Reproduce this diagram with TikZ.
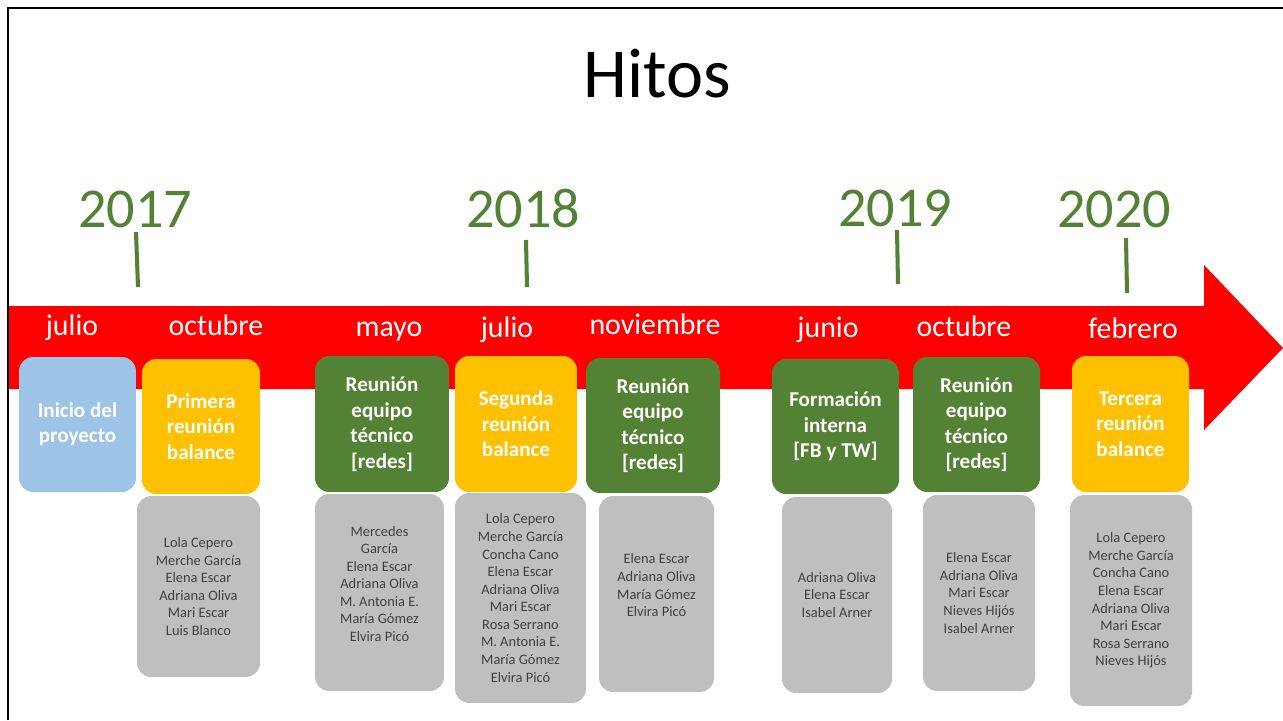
\documentclass[tikz,border=0pt]{standalone}
\usepackage{fontspec}
\setmainfont{Carlito}
\usetikzlibrary{positioning}
\definecolor{verde-hito}{RGB}{84,130,53}
\definecolor{amarillo-hito}{RGB}{255,192,0}
\definecolor{azul-hito}{RGB}{157,195,230}
\definecolor{gris-hito}{RGB}{191,191,191}
\definecolor{texto-gris}{RGB}{64,64,64}

\begin{document}
\begin{tikzpicture}[x=0.02cm, y=-0.02cm,
	hito/.style={rounded corners=8pt, text=white, align=center, inner sep=0pt, font=\fontsize{12}{14.5}\selectfont\bfseries},
	nombres/.style={fill=gris-hito, rounded corners=8pt, text=texto-gris, align=center, inner sep=0pt, font=\fontsize{8.2}{10}\selectfont},
	anio/.style={anchor=base, text=verde-hito, font=\fontsize{32}{38}\selectfont},
	mes/.style={anchor=base, text=white, font=\fontsize{17}{20}\selectfont},
	marca/.style={verde-hito, line width=2.3pt}]
	  \useasboundingbox (0,0) rectangle (1283,720);
	  % flecha roja
	  \fill[red] (8,306) -- (1204,306) -- (1204,265) -- (1283,348) -- (1204,430) -- (1204,389) -- (8,389) -- cycle;
	  \draw[line width=1.2pt] (8,720) -- (8,8) -- (1283,8);
	  \node[anchor=base, font=\fontsize{40}{48}\selectfont] (titulo) at (657,97) {Hitos};
	  % anios
	  \node[anio] (a2017) at (135,227) {2017};
	  \node[anio] (a2018) at (523,227) {2018};
	  \node[anio] (a2019) at (895,226) {2019};
	  \node[anio] (a2020) at (1114,227) {2020};
	  \draw[marca] (136,232) -- (138,287);
	  \draw[marca] (526,240) -- (527,287);
	  \draw[marca] (897,230) -- (898,284);
	  \draw[marca] (1126,238) -- (1127,293);
	  % meses
	  \node[mes] (m1) at (72,335) {julio};
	  \node[mes] (m2) at (216,335) {octubre};
	  \node[mes] (m3) at (389,336) {mayo};
	  \node[mes] (m4) at (507,337) {julio};
	  \node[mes] (m5) at (655,334) {noviembre};
	  \node[mes] (m6) at (828,337) {junio};
	  \node[mes] (m7) at (964,336) {octubre};
	  \node[mes] (m8) at (1133,338) {febrero};
	  % hitos
	  \node[hito, fill=azul-hito, minimum width=2.34cm, minimum height=2.70cm] (h1) at (77.5,424.5) {Inicio del\\proyecto};
	  \node[hito, fill=amarillo-hito, minimum width=2.36cm, minimum height=2.70cm] (h2) at (201,426.5) {Primera\\reunión\\balance};
	  \node[hito, fill=verde-hito, minimum width=2.68cm, minimum height=2.72cm] (h3) at (382,424) {Reunión\\equipo\\técnico\\{[redes]}};
	  \node[hito, fill=amarillo-hito, minimum width=2.44cm, minimum height=2.72cm] (h4) at (516,424) {Segunda\\reunión\\balance};
	  \node[hito, fill=verde-hito, minimum width=2.68cm, minimum height=2.70cm] (h5) at (653,425.5) {Reunión\\equipo\\técnico\\{[redes]}};
	  \node[hito, fill=verde-hito, minimum width=2.54cm, minimum height=2.70cm] (h6) at (835.5,426.5) {Formación\\interna\\{[FB y TW]}};
	  \node[hito, fill=verde-hito, minimum width=2.54cm, minimum height=2.70cm] (h7) at (976.5,424.5) {Reunión\\equipo\\técnico\\{[redes]}};
	  \node[hito, fill=amarillo-hito, minimum width=2.34cm, minimum height=2.72cm] (h8) at (1130.5,424) {Tercera\\reunión\\balance};
	  % asistentes
	  \node[nombres, minimum width=2.46cm, minimum height=3.62cm] (n2) at (198.5,586.5) {Lola Cepero\\Merche García\\Elena Escar\\Adriana Oliva\\Mari Escar\\Luis Blanco};
	  \node[nombres, minimum width=2.58cm, minimum height=3.94cm] (n3) at (379.5,592.5) {Mercedes\\García\\Elena Escar\\Adriana Oliva\\M. Antonia E.\\María Gómez\\Elvira Picó\\\mbox{}};
	  \node[nombres, minimum width=2.62cm, minimum height=4.20cm] (n4) at (520.5,598) {Lola Cepero\\Merche García\\Concha Cano\\Elena Escar\\Adriana Oliva\\Mari Escar\\Rosa Serrano\\M. Antonia E.\\María Gómez\\Elvira Picó};
	  \node[nombres, minimum width=2.30cm, minimum height=3.92cm] (n5) at (656.5,594) {Elena Escar\\Adriana Oliva\\María Gómez\\Elvira Picó\\\mbox{}};
	  \node[nombres, minimum width=2.20cm, minimum height=3.92cm] (n6) at (837,595) {Adriana Oliva\\Elena Escar\\Isabel Arner};
	  \node[nombres, minimum width=2.24cm, minimum height=3.92cm] (n7) at (979,593) {Elena Escar\\Adriana Oliva\\Mari Escar\\Nieves Hijós\\Isabel Arner};
	  \node[nombres, minimum width=2.44cm, minimum height=4.22cm] (n8) at (1131,600.5) {Lola Cepero\\Merche García\\Concha Cano\\Elena Escar\\Adriana Oliva\\Mari Escar\\Rosa Serrano\\Nieves Hijós};
	\end{tikzpicture}
\end{document}
